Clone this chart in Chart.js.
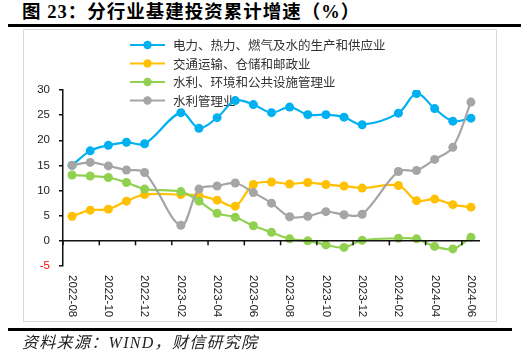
<!DOCTYPE html>
<html>
<head>
<meta charset="utf-8">
<script src="https://cdn.jsdelivr.net/npm/chart.js@4/dist/chart.umd.min.js"></script>
<style>
  html, body { margin: 0; padding: 0; background: #fff; }
  body { width: 529px; height: 358px; position: relative; overflow: hidden; }
  #title { position: absolute; left: 22px; top: 1px; font-family: "Liberation Serif", "Noto Sans CJK SC", serif; font-weight: bold; font-size: 18.5px; letter-spacing: 1px; color: #000; white-space: nowrap; line-height: 22px; }
  #rule1 { position: absolute; left: 8px; top: 24px; width: 513px; height: 2.5px; background: #000; }
  #box { position: absolute; left: 23px; top: 29px; width: 472px; height: 291px; border: 1px solid #D9D9D9; }
  #rule2 { position: absolute; left: 8px; top: 328px; width: 504px; height: 2.5px; background: #000; }
  #foot { position: absolute; left: 22px; top: 333px; font-family: "Liberation Serif", "Noto Sans CJK SC", serif; font-style: italic; font-size: 16px; letter-spacing: 1.3px; color: #222; white-space: nowrap; line-height: 20px; }
  #c { position: absolute; left: 0; top: 0; }
</style>
</head>
<body>
<div id="title">图 23：分行业基建投资累计增速（%）</div>
<div id="rule1"></div>
<div id="box"></div>
<canvas id="c" width="529" height="358"></canvas>
<div id="rule2"></div>
<div id="foot">资料来源：WIND，财信研究院</div>
<script>
// Categories (monthly; January values not published -> null)
const categories = ["2022-08","2022-09","2022-10","2022-11","2022-12","2023-01","2023-02","2023-03","2023-04","2023-05","2023-06","2023-07","2023-08","2023-09","2023-10","2023-11","2023-12","2024-01","2024-02","2024-03","2024-04","2024-05","2024-06"];

const seriesNames = ["电力、热力、燃气及水的生产和供应业", "交通运输、仓储和邮政业", "水利、环境和公共设施管理业", "水利管理业"];

const power     = [15.0, 17.9, 19.0, 19.6, 19.3, null, 25.5, 22.4, 24.5, 27.9, 27.1, 25.5, 26.6, 25.1, 25.1, 24.6, 23.1, null, 25.4, 29.3, 26.3, 23.8, 24.4];
const transport = [4.9, 6.1, 6.3, 7.9, 9.2, null, 9.2, 9.0, 8.1, 6.9, 11.2, 11.7, 11.3, 11.6, 11.2, 10.9, 10.5, null, 11.0, 8.0, 8.3, 7.2, 6.7];
const utilities = [13.1, 12.9, 12.6, 11.6, 10.3, null, 9.8, 7.9, 5.5, 4.7, 3.0, 1.7, 0.4, 0.0, -0.8, -1.3, 0.1, null, 0.5, 0.4, -1.1, -1.6, 0.7];
const waterMgmt = [15.0, 15.6, 14.9, 14.1, 13.6, null, 3.1, 10.3, 10.9, 11.5, 9.6, 7.5, 4.8, 4.9, 5.8, 5.2, 5.3, null, 13.8, 14.0, 16.2, 18.6, 27.6];

const yTicks = [-5, 0, 5, 10, 15, 20, 25, 30];
const colors = ["#00B0F0", "#FFC000", "#92D050", "#A5A5A5"];

const allSeries = [power, transport, utilities, waterMgmt];

const datasets = allSeries.map((d, i) => ({
  label: seriesNames[i],
  data: d,
  borderColor: colors[i],
  backgroundColor: colors[i],
  pointBackgroundColor: colors[i],
  pointBorderColor: colors[i],
  pointBorderWidth: 0,
  pointRadius: 4.5,
  borderWidth: 2.2,
  tension: 0.35,
  spanGaps: true,
  order: 3 - i
}));

const legendPlugin = {
  id: 'customLegend',
  beforeDatasetsDraw(chart) {
    const ctx = chart.ctx;
    ctx.save();
    ctx.font = '12.5px "Noto Sans CJK SC", sans-serif';
    ctx.textBaseline = 'middle';
    ctx.textAlign = 'left';
    const rows = [45, 63.5, 82, 100.5];
    seriesNames.forEach((name, i) => {
      const y = rows[i];
      ctx.strokeStyle = colors[i];
      ctx.lineWidth = 2.2;
      ctx.beginPath();
      ctx.moveTo(130, y);
      ctx.lineTo(165, y);
      ctx.stroke();
      ctx.fillStyle = colors[i];
      ctx.beginPath();
      ctx.arc(147.5, y, 4.2, 0, Math.PI * 2);
      ctx.fill();
      ctx.fillStyle = '#333';
      ctx.fillText(name, 173, y + 0.5);
    });
    ctx.restore();
  }
};

const xAxisPlugin = {
  id: 'zeroAxis',
  afterDraw(chart) {
    const ctx = chart.ctx;
    const xs = chart.scales.x;
    const ys = chart.scales.y;
    const area = chart.chartArea;
    const y0 = ys.getPixelForValue(0);
    const half = (xs.getPixelForValue(1) - xs.getPixelForValue(0)) / 2;
    ctx.save();
    ctx.strokeStyle = '#111';
    ctx.lineWidth = 1.5;
    ctx.beginPath();
    ctx.moveTo(area.left, y0);
    ctx.lineTo(area.right, y0);
    ctx.stroke();
    ctx.font = '11.5px "Liberation Sans", Arial, sans-serif';
    ctx.fillStyle = '#222';
    ctx.textAlign = 'left';
    ctx.textBaseline = 'middle';
    categories.forEach((lab, i) => {
      if (i % 2 !== 0) return;
      const cx = xs.getPixelForValue(i);
      const tx = cx - half;
      ctx.beginPath();
      ctx.moveTo(tx, y0);
      ctx.lineTo(tx, y0 + 4.5);
      ctx.stroke();
      ctx.save();
      ctx.translate(cx, 275);
      ctx.rotate(Math.PI / 2);
      ctx.fillText(lab, 0, 0);
      ctx.restore();
    });
    ctx.restore();
  }
};

new Chart(document.getElementById('c'), {
  type: 'line',
  data: { labels: categories, datasets },
  options: {
    responsive: false,
    animation: false,
    devicePixelRatio: 1,
    layout: { padding: { left: 23, right: 49, top: 90, bottom: 92 } },
    plugins: { legend: { display: false }, tooltip: { enabled: false }, title: { display: false } },
    scales: {
      x: {
        type: 'category',
        display: false,
        offset: true
      },
      y: {
        min: -5,
        max: 30,
        afterFit(scale) { scale.width = 40; },
        afterBuildTicks(scale) { scale.ticks = yTicks.map(v => ({ value: v })); },
        ticks: {
          stepSize: 5,
          padding: 9,
          font: { size: 11.5, family: '"Liberation Sans", Arial, sans-serif' },
          color: (c) => c.tick && c.tick.value === -5 ? '#FF0000' : '#222'
        },
        grid: { display: true, drawOnChartArea: false, tickLength: 4, color: '#111', lineWidth: 1.5 },
        border: { display: true, color: '#111', width: 1.5 }
      }
    }
  },
  plugins: [legendPlugin, xAxisPlugin]
});
</script>
</body>
</html>
